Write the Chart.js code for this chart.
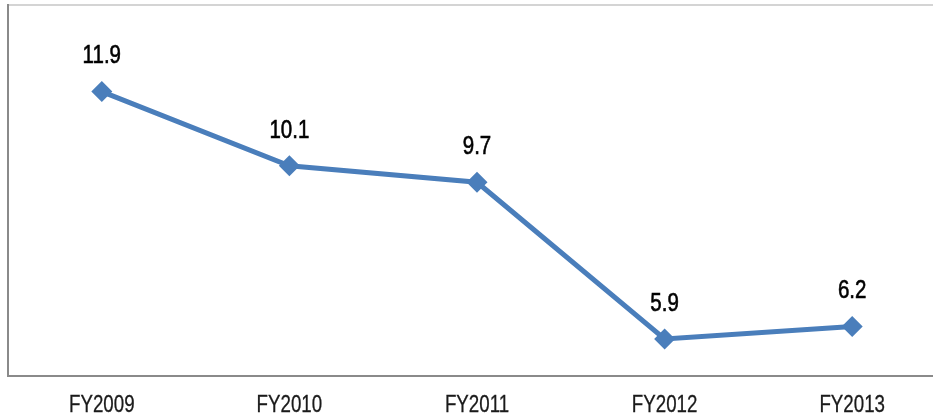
<!DOCTYPE html>
<html>
<head>
<meta charset="utf-8">
<script src="https://cdn.jsdelivr.net/npm/chart.js@4"></script>
<style>
  html, body { margin: 0; padding: 0; background: #fff; overflow: hidden; }
  .wrap { width: 946px; height: 418px; }
</style>
</head>
<body>
<div class="wrap"><canvas id="chart" width="946" height="418"></canvas></div>
<script>
const years = ['FY2009', 'FY2010', 'FY2011', 'FY2012', 'FY2013'];
const values = [11.9, 10.1, 9.7, 5.9, 6.2];
const yMin = 5;
const yMax = 14;

const fontFamily = '"Liberation Sans", Arial, sans-serif';

// narrow text: no Arial Narrow here, so squeeze Liberation Sans
let narrowText = (ctx, text, x, y, sx) => {
    ctx.save();
    ctx.translate(x, y);
    ctx.scale(sx, 1);
    ctx.strokeText(text, 0, 0);
    ctx.fillText(text, 0, 0);
    ctx.restore();
}

const narrowLabels = {
    id: 'narrowLabels',
    afterDatasetsDraw(chart) {
        const ctx = chart.ctx;
        const meta = chart.getDatasetMeta(0);
        const xScale = chart.scales.x;
        ctx.save();
        ctx.textAlign = 'center';
        ctx.textBaseline = 'middle';
        // values above the points
        ctx.font = '25px ' + fontFamily;
        ctx.fillStyle = '#000';
        ctx.strokeStyle = '#000';
        ctx.lineWidth = 0.6;
        meta.data.forEach((pt, i) => {
            narrowText(ctx, values[i].toFixed(1), pt.x, pt.y - 35, 0.82);
        });
        // category labels under the axis
        ctx.font = '24px ' + fontFamily;
        ctx.fillStyle = '#1a1a1a';
        ctx.strokeStyle = '#1a1a1a';
        ctx.lineWidth = 0.3;
        years.forEach((lab, i) => {
            narrowText(ctx, lab, xScale.getPixelForTick(i), xScale.bottom - 13, 0.78);
        });
        ctx.restore();
    }
};

const canvas = document.querySelector('#chart');
new Chart(canvas, {
    type: 'line',
    data: {
        labels: years,
        datasets: [{
            data: values,
            borderColor: '#4A7EBB',
            backgroundColor: '#4A7EBB',
            borderWidth: 5,
            pointStyle: 'rectRot',
            pointRadius: 10.5,
            pointBorderWidth: 0,
            tension: 0,
        }]
    },
    options: {
        responsive: false,
        animation: false,
        layout: { autoPadding: false, padding: { left: 8, top: 5, right: 0, bottom: 0 } },
        plugins: { legend: { display: false }, tooltip: { enabled: false } },
        scales: {
            x: {
                offset: true,
                grid: { display: false, drawTicks: false },
                border: { color: '#8a8a8a', width: 2 },
                ticks: { display: false },
                afterFit(scale) { scale.height = 42; }
            },
            y: {
                min: yMin,
                max: yMax,
                border: { color: '#8a8a8a', width: 2 },
                grid: {
                    drawTicks: false,
                    lineWidth: 2,
                    color: (c) => (c.tick && c.tick.value === yMax) ? '#d4d4d4' : 'transparent',
                },
                ticks: { display: false, stepSize: 9 },
                afterFit(scale) { scale.width = 0; }
            }
        }
    },
    plugins: [narrowLabels]
});
</script>
</body>
</html>
